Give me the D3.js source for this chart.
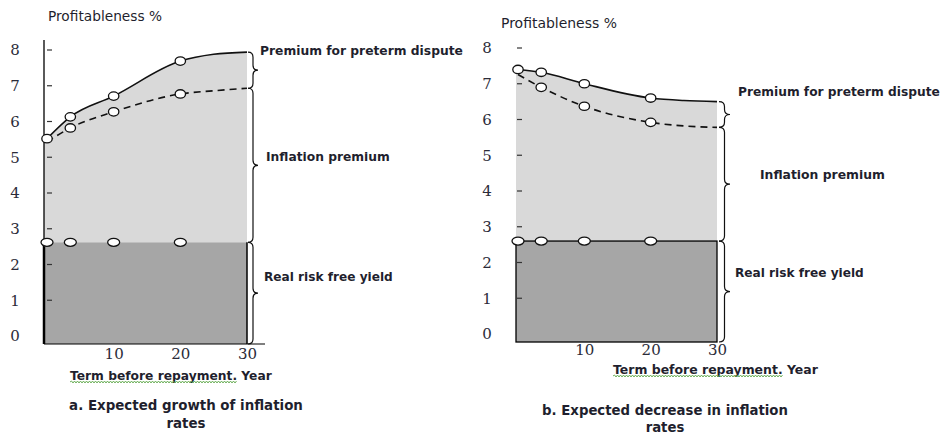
<!DOCTYPE html>
<html><head><meta charset="utf-8">
<script src="https://cdn.jsdelivr.net/npm/d3@7"></script>
<style>body{margin:0;background:#fff}svg{display:block}</style>
</head><body>
<svg id="chart" width="941" height="434"></svg>
<script>
// ---------- data ----------
const years = [0, 3.5, 10, 20, 25, 30];
const markerYears = [0, 3.5, 10, 20];
const inflMarkerYears = [3.5, 10, 20];

const totalA = [5.52, 6.13, 6.71, 7.69, 7.88, 7.94];
const inflationA = [5.43, 5.82, 6.27, 6.77, 6.86, 6.93];
const realA = [2.62, 2.62, 2.62, 2.62, 2.62, 2.62];

const totalB = [7.40, 7.32, 7.00, 6.60, 6.53, 6.50];
const inflationB = [7.26, 6.90, 6.37, 5.92, 5.82, 5.78];
const realB = [2.60, 2.60, 2.60, 2.60, 2.60, 2.60];

const yTicks = [0, 1, 2, 3, 4, 5, 6, 7, 8];
const yTickMarks = [1, 2, 3, 4, 5, 6, 7, 8];
const xTicks = [10, 20, 30];
const bandLabels = ["Premium for preterm dispute", "Inflation premium", "Real risk free yield"];
const yTitle = "Profitableness %";
const xTitle = "Term before repayment. Year";
const xTitleMarked = "Term before repayment.";
const captionA = ["a. Expected growth of inflation", "rates"];
const captionB = ["b. Expected decrease in inflation", "rates"];

// ---------- layout ----------
const panels = [
  { total: totalA, infl: inflationA, real: realA, caption: captionA,
    xr: [47, 247], yr: [336, 50], bottom: 344, rectLeft: 44, axisLine: true, axisTop: 40, axisRight: 265,
    topBorder: false, yLabelX: 15, tickX: [47, 52], tickPad: 4, braceX: 248, braceW: 10,
    labelPos: [[260, 51, 203], [266, 157, 124], [264, 277, 129]],
    titlePos: [48, 16, 114], xTitlePos: [70, 376, 202], capPos: [186, 405, 234, 423, 39] },
  { total: totalB, infl: inflationB, real: realB, caption: captionB,
    xr: [518, 717], yr: [334, 48], bottom: 342, rectLeft: 516, axisLine: false,
    topBorder: true, yLabelX: 487, tickX: [517, 522], tickPad: 2, braceX: 719, braceW: 11,
    labelPos: [[738, 92, 202], [760, 175, 125], [735, 273, 129]],
    titlePos: [501, 23, 116], xTitlePos: [613, 370, 205], capPos: [665, 410, 246, 427, 40] }
];

const svg = d3.select("#chart");
const SANS = "'DejaVu Sans', Verdana, sans-serif";
const SERIF = "'DejaVu Serif', serif";
const TXT = "#1f1f2e";

function fitText(sel, target) {
  const base = parseFloat(sel.attr("font-size"));
  const w = sel.node().getComputedTextLength();
  if (w > 0) sel.attr("font-size", (base * target / w).toFixed(2));
  return sel;
}

function bracePath(x, ya, yb, w) {
  const m = (ya + yb) / 2, xm = x + w * 0.5, r = Math.min(5, (yb - ya) / 4);
  return `M${x},${ya} Q${xm},${ya} ${xm},${ya + r} L${xm},${m - r} Q${xm},${m} ${x + w},${m}` +
         ` Q${xm},${m} ${xm},${m + r} L${xm},${yb - r} Q${xm},${yb} ${x},${yb}`;
}

function squiggle(x1, x2, y) {
  let d = `M${x1},${y}`;
  let up = true;
  for (let x = x1 + 1.5; x <= x2; x += 1.5) { d += ` L${x},${y + (up ? -1 : 1)}`; up = !up; }
  return d;
}

panels.forEach(p => {
  const g = svg.append("g");
  const x = d3.scaleLinear().domain([0, 30]).range(p.xr);
  const y = d3.scaleLinear().domain([0, 8]).range(p.yr);
  const rows = years.map((yr, i) => ({ yr, total: p.total[i], infl: p.infl[i], real: p.real[i] }));
  const curve = d3.curveMonotoneX;

  // light area: real -> total
  g.append("path").datum(rows)
    .attr("d", d3.area().curve(curve).x(d => x(d.yr)).y0(d => y(d.real)).y1(d => y(d.total)))
    .attr("fill", "#d9d9d9");
  g.append("rect").attr("x", p.rectLeft).attr("width", x(0) - p.rectLeft + 0.5)
    .attr("y", y(p.total[0])).attr("height", y(p.real[0]) - y(p.total[0]))
    .attr("fill", "#d9d9d9");

  // dark rect: real risk-free
  const realV = p.real[0];
  g.append("rect").attr("x", p.rectLeft).attr("y", y(realV))
    .attr("width", x(30) - p.rectLeft).attr("height", p.bottom - y(realV))
    .attr("fill", "#a6a6a6");
  if (p.topBorder) {
    g.append("rect").attr("x", p.rectLeft).attr("y", y(realV))
      .attr("width", x(30) - p.rectLeft).attr("height", p.bottom - y(realV))
      .attr("fill", "none").attr("stroke", "#000").attr("stroke-width", 1.3);
  } else {
    g.append("line").attr("x1", x(30)).attr("x2", x(30)).attr("y1", y(realV)).attr("y2", p.bottom)
      .attr("stroke", "#000").attr("stroke-width", 1.5);
  }

  // axis lines
  if (p.axisLine) {
    g.append("line").attr("x1", p.rectLeft).attr("x2", p.rectLeft).attr("y1", p.axisTop).attr("y2", y(realV))
      .attr("stroke", "#000").attr("stroke-width", 1.3);
    g.append("line").attr("x1", p.rectLeft).attr("x2", p.rectLeft).attr("y1", y(realV)).attr("y2", p.bottom)
      .attr("stroke", "#000").attr("stroke-width", 2.5);
    g.append("line").attr("x1", p.rectLeft).attr("x2", p.axisRight).attr("y1", p.bottom).attr("y2", p.bottom)
      .attr("stroke", "#000").attr("stroke-width", 1.2);
  }

  // tick dashes
  g.selectAll(".tk").data(yTickMarks).join("line")
    .attr("x1", p.tickX[0]).attr("x2", p.tickX[1])
    .attr("y1", d => y(d)).attr("y2", d => y(d))
    .attr("stroke", "#333").attr("stroke-width", 1.2);

  // lines
  g.append("path").datum(rows)
    .attr("d", d3.line().curve(curve).x(d => x(d.yr)).y(d => y(d.infl)))
    .attr("fill", "none").attr("stroke", "#111").attr("stroke-width", 1.6).attr("stroke-dasharray", "7,5");
  g.append("path").datum(rows)
    .attr("d", d3.line().curve(curve).x(d => x(d.yr)).y(d => y(d.total)))
    .attr("fill", "none").attr("stroke", "#111").attr("stroke-width", 1.6);

  // braces
  const yTopEnd = y(p.total[p.total.length - 1]);
  const yInflEnd = y(p.infl[p.infl.length - 1]);
  const yReal = y(realV);
  [[yTopEnd, yInflEnd], [yInflEnd, yReal], [yReal, p.bottom]].forEach(([a, b]) => {
    g.append("path").attr("d", bracePath(p.braceX, a, b, p.braceW))
      .attr("fill", "none").attr("stroke", "#111").attr("stroke-width", 1.2);
  });

  // markers
  const val = (arr, yr) => arr[years.indexOf(yr)];
  g.selectAll(".mt").data(markerYears).join("ellipse")
    .attr("cx", d => x(d)).attr("cy", d => y(val(p.total, d))).attr("rx", 5.2).attr("ry", 4.2)
    .attr("fill", "#fff").attr("stroke", "#111").attr("stroke-width", 1.3);
  g.selectAll(".mi").data(inflMarkerYears).join("ellipse")
    .attr("cx", d => x(d)).attr("cy", d => y(val(p.infl, d))).attr("rx", 5.2).attr("ry", 4.2)
    .attr("fill", "#fff").attr("stroke", "#111").attr("stroke-width", 1.3);
  g.selectAll(".mr").data(markerYears).join("ellipse")
    .attr("cx", d => x(d)).attr("cy", d => y(val(p.real, d))).attr("rx", 6).attr("ry", 4)
    .attr("fill", "#fff").attr("stroke", "#111").attr("stroke-width", 1.3);

  // y tick labels
  const ya = g.append("g").attr("transform", `translate(${p.yLabelX},0)`)
    .call(d3.axisLeft(y).tickValues(yTicks).tickSize(0).tickPadding(0));
  ya.select(".domain").remove();
  ya.selectAll("text").attr("x", 0).attr("text-anchor", "middle")
    .attr("font-family", SERIF).attr("font-size", 15).attr("fill", "#2b2b38");

  // x tick labels
  const xa = g.append("g").attr("transform", `translate(0,${p.bottom})`)
    .call(d3.axisBottom(x).tickValues(xTicks).tickSize(0).tickPadding(p.tickPad));
  xa.select(".domain").remove();
  xa.selectAll("text").attr("font-family", SERIF).attr("font-size", 15).attr("fill", "#2b2b38");

  // band labels
  bandLabels.forEach((t, i) => {
    const [lx, ly, lw] = p.labelPos[i];
    const tx = g.append("text").attr("x", lx).attr("y", ly).attr("dy", "0.35em")
      .attr("font-family", SANS).attr("font-weight", "bold").attr("font-size", 12)
      .attr("fill", TXT).text(t);
    fitText(tx, lw);
  });

  // y title
  const tt = g.append("text").attr("x", p.titlePos[0]).attr("y", p.titlePos[1]).attr("dy", "0.35em")
    .attr("font-family", SANS).attr("font-size", 12).attr("fill", TXT).text(yTitle);
  fitText(tt, p.titlePos[2]);

  // x title
  const xt = g.append("text").attr("x", p.xTitlePos[0]).attr("y", p.xTitlePos[1]).attr("dy", "0.35em")
    .attr("font-family", SANS).attr("font-weight", "bold").attr("font-size", 12).attr("fill", TXT).text(xTitle);
  fitText(xt, p.xTitlePos[2]);
  const markW = xt.node().getSubStringLength(0, xTitleMarked.length);
  g.append("path").attr("d", squiggle(p.xTitlePos[0], p.xTitlePos[0] + markW, p.xTitlePos[1] + 6))
    .attr("fill", "none").attr("stroke", "#5fa84a").attr("stroke-width", 0.9);

  // caption
  const c1 = g.append("text").attr("x", p.capPos[0]).attr("y", p.capPos[1]).attr("dy", "0.35em")
    .attr("text-anchor", "middle").attr("font-family", SANS).attr("font-weight", "bold")
    .attr("font-size", 12).attr("fill", TXT).text(p.caption[0]);
  fitText(c1, p.capPos[2]);
  g.append("text").attr("x", p.capPos[0]).attr("y", p.capPos[3]).attr("dy", "0.35em")
    .attr("text-anchor", "middle").attr("font-family", SANS).attr("font-weight", "bold")
    .attr("font-size", c1.attr("font-size")).attr("fill", TXT).text(p.caption[1]);
});
</script>
</body></html>
